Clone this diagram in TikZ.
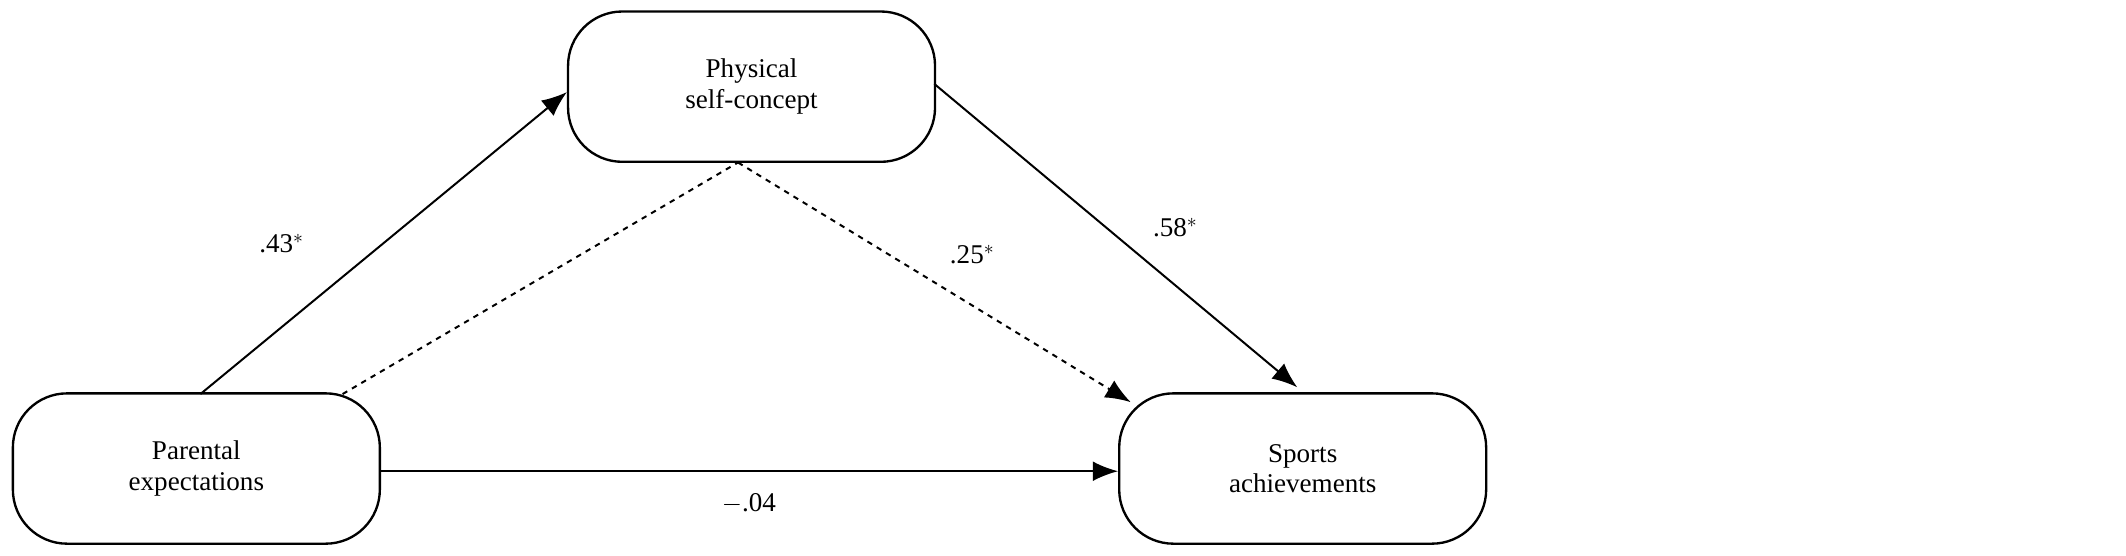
\documentclass[tikz,border=0pt]{standalone}
\usepackage{fontspec}
\setmainfont{Liberation Serif}
\usetikzlibrary{arrows.meta}
\begin{document}
\begin{tikzpicture}[x=0.75pt,y=0.75pt,
  box/.style={draw,line width=1.3pt,rounded corners=30pt,minimum width=271*0.75pt,minimum height=111*0.75pt,align=center,font=\fontsize{15}{17}\selectfont,inner sep=0pt},
  con/.style={line width=1.1pt},
  arr/.style={con,-{Latex[length=14pt,width=11pt]}},
  lab/.style={font=\fontsize{15}{17}\selectfont,inner sep=1pt}]
\useasboundingbox (0,0) rectangle (1570,410);
\node[box] (P) at (145,64) {Parental\\expectations};
\node[box] (S) at (555,346) {Physical\\self-concept};
\node[box] (A) at (962,64) {Sports\\achievements};
\coordinate (p1) at (148,119);
\coordinate (p2) at (253,119);
\coordinate (s1) at (545,290);
\coordinate (s2) at (690,348);
\coordinate (a1) at (958,124);
\coordinate (a2) at (835,113);
\draw[arr] (p1) -- (S.west |- 0,342);
\draw[arr] (s2) -- (a1);
\draw[con,dashed] (p2) -- (s1);
\draw[arr,dashed] (s1) -- (a2);
\draw[arr] (P.east |- 0,62) -- (A.west |- 0,62);
\node[lab] (l1) at (208,230) {.43$^{*}$};
\node[lab] (l2) at (868,242) {.58$^{*}$};
\node[lab] (l3) at (718,222) {.25$^{*}$};
\node[lab] (l4) at (553,38) {$-$.04};
\end{tikzpicture}
\end{document}
